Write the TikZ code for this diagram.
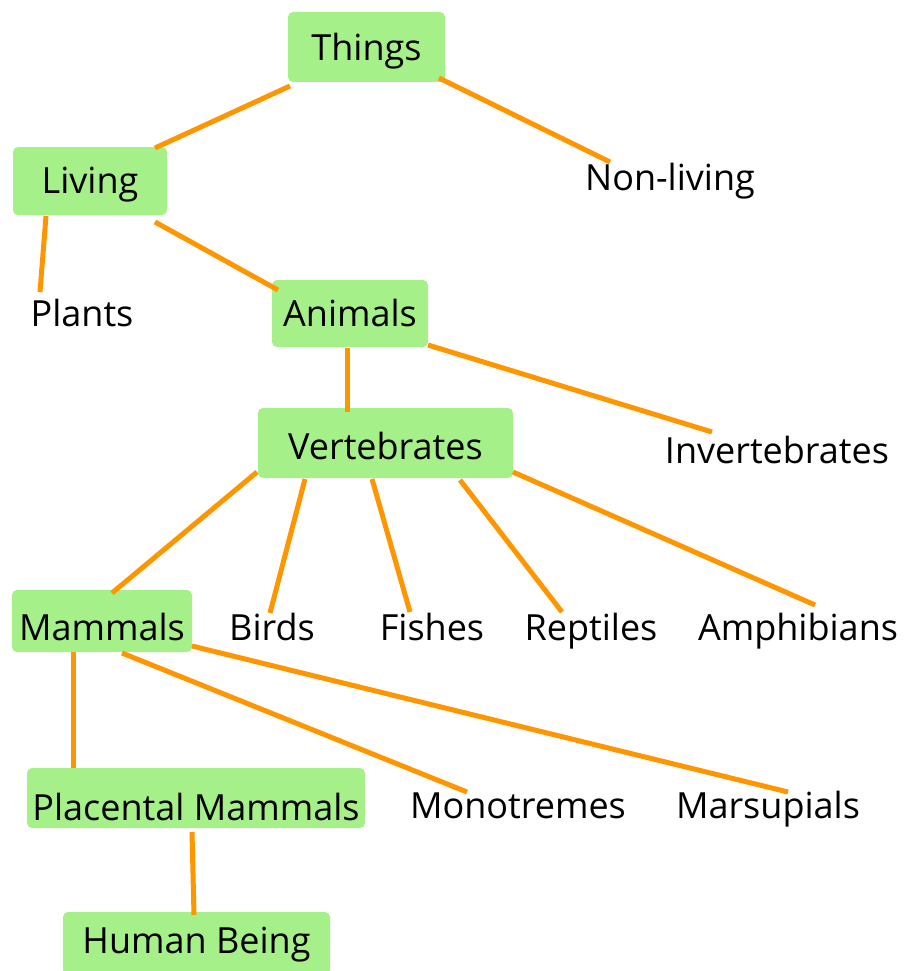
\documentclass[tikz,border=0pt]{standalone}
\usepackage{fontspec}
\setmainfont{Open Sans}
\usetikzlibrary{calc}
\definecolor{boxgreen}{RGB}{166,240,138}
\definecolor{lineorange}{RGB}{255,150,0}
\begin{document}
\begin{tikzpicture}[x=1pt,y=-1pt,
  every node/.style={font=\fontsize{36}{40}\selectfont, inner sep=0pt, outer sep=0pt},
  greenbox/.style={fill=boxgreen, rounded corners=5pt, text depth=0pt},
  plainlabel/.style={anchor=base, text height=26pt, text depth=0pt},
  link/.style={draw=lineorange, line width=5pt}]
\useasboundingbox (0,0) rectangle (907,971);
% boxes
\node[greenbox, minimum width=157pt, minimum height=70pt, text height=28pt] (things) at (366.5,47) {Things};
\node[greenbox, minimum width=154pt, minimum height=68pt, text height=24pt] (living) at (90,181) {Living};
\node[greenbox, minimum width=156pt, minimum height=67pt, text height=25pt] (animals) at (350,313.5) {Animals};
\node[greenbox, minimum width=255pt, minimum height=70pt, text height=32pt] (vertebrates) at (385.5,443) {Vertebrates};
\node[greenbox, minimum width=180pt, minimum height=62pt, text height=38pt] (mammals) at (102,621) {Mammals};
\node[greenbox, minimum width=338pt, minimum height=60pt, text height=44pt] (placental) at (196,798) {Placental Mammals};
\node[greenbox, minimum width=267pt, minimum height=63pt, text height=19pt] (human) at (196.5,943.5) {Human Being};
% plain labels
\node[plainlabel] (nonliving) at (670,190) {Non-living};
\node[plainlabel] (plants) at (82,326) {Plants};
\node[plainlabel] (invertebrates) at (777,463) {Invertebrates};
\node[plainlabel] (birds) at (272,640) {Birds};
\node[plainlabel] (fishes) at (432,640) {Fishes};
\node[plainlabel] (reptiles) at (591,640) {Reptiles};
\node[plainlabel] (amphibians) at (798,640) {Amphibians};
\node[plainlabel] (monotremes) at (518,818) {Monotremes};
\node[plainlabel] (marsupials) at (768,818) {Marsupials};
% connectors
\draw[link] ($(things.center)+(-76.5,39)$) -- ($(living.center)+(65,-33)$);
\draw[link] ($(things.center)+(72.5,31)$) -- ($(nonliving.base)+(-60,-28)$);
\draw[link] ($(living.center)+(-44,35)$) -- ($(plants.base)+(-42,-34)$);
\draw[link] ($(living.center)+(65,41)$) -- ($(animals.center)+(-72,-23.5)$);
\draw[link] ($(animals.center)+(-3,34.5)$) -- ($(vertebrates.center)+(-38.5,-31)$);
\draw[link] ($(animals.center)+(78,31.5)$) -- ($(invertebrates.base)+(-65,-31)$);
\draw[link] ($(vertebrates.center)+(-128.5,29)$) -- ($(mammals.center)+(10,-28)$);
\draw[link] ($(vertebrates.center)+(-80.5,36)$) -- ($(birds.base)+(-2,-27)$);
\draw[link] ($(vertebrates.center)+(-13.5,36)$) -- ($(fishes.base)+(-22,-28)$);
\draw[link] ($(vertebrates.center)+(74.5,37)$) -- ($(reptiles.base)+(-29,-28)$);
\draw[link] ($(vertebrates.center)+(127.5,29)$) -- ($(amphibians.base)+(17,-35)$);
\draw[link] ($(mammals.center)+(-29,31)$) -- ($(placental.center)+(-123,-30)$);
\draw[link] ($(mammals.center)+(20,32)$) -- ($(monotremes.base)+(-51,-26)$);
\draw[link] ($(mammals.center)+(90,25)$) -- ($(marsupials.base)+(20,-26)$);
\draw[link] ($(placental.center)+(-4,34)$) -- ($(human.center)+(-2.5,-28.5)$);
\end{tikzpicture}
\end{document}
